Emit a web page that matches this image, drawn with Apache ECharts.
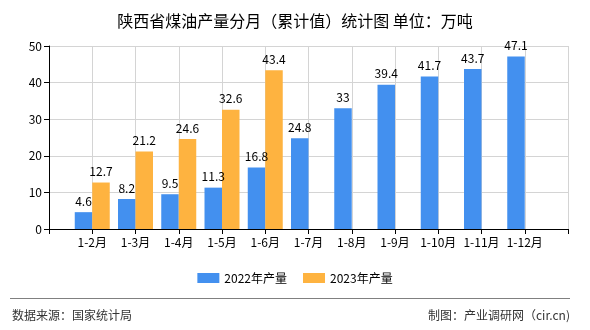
<!DOCTYPE html>
<html>
<head>
<meta charset="utf-8">
<script src="https://cdn.jsdelivr.net/npm/echarts@6/dist/echarts.min.js"></script>
<style>
  html, body { margin: 0; padding: 0; background: #fff; }
  #chart { width: 590px; height: 330px; }
</style>
</head>
<body>
<div id="chart"></div>
<script>
// Monthly cumulative kerosene output, Shaanxi (10k tonnes)
const months = ['1-2月', '1-3月', '1-4月', '1-5月', '1-6月', '1-7月', '1-8月', '1-9月', '1-10月', '1-11月', '1-12月'];
const output2022 = [4.6, 8.2, 9.5, 11.3, 16.8, 24.8, 33, 39.4, 41.7, 43.7, 47.1];
const output2023 = [12.7, 21.2, 24.6, 32.6, 43.4];
const yTicks = { min: 0, max: 50, interval: 10 };

// Empty slots at both ends so the months sit on interior ticks
const categories = [''].concat(months, ['']);
const pad = (arr) => ['-'].concat(months.map((_, i) => (i < arr.length ? arr[i] : '-')), ['-']);

const font = '"Noto Sans CJK SC", "Noto Sans", sans-serif';
const chart = echarts.init(document.getElementById('chart'), null, { renderer: 'canvas' });

const labelStyle = {
  show: true,
  position: 'top',
  color: '#000',
  fontSize: 12,
  fontFamily: font
};

chart.setOption({
  animation: false,
  textStyle: { fontFamily: font },
  title: {
    text: '陕西省煤油产量分月（累计值）统计图 单位：万吨',
    left: 'center',
    top: 8,
    textStyle: { fontSize: 16, fontWeight: 'normal', color: '#000', fontFamily: font }
  },
  legend: {
    bottom: 41,
    left: 'center',
    itemWidth: 22,
    itemHeight: 10,
    itemGap: 16,
    icon: 'rect',
    textStyle: { fontSize: 12, color: '#000', fontFamily: font },
    data: ['2022年产量', '2023年产量']
  },
  grid: { left: 49, right: 22, top: 46, bottom: 101, containLabel: false },
  xAxis: {
    type: 'category',
    data: categories,
    boundaryGap: false,
    axisLine: { lineStyle: { color: '#000', width: 1 } },
    axisTick: { show: true, interval: 0, length: 5, lineStyle: { color: '#000' } },
    axisLabel: { interval: 0, color: '#000', fontSize: 12, fontFamily: font, margin: 7 },
    splitLine: { show: true, interval: 0, lineStyle: { color: '#d4d4d4', width: 1 } }
  },
  yAxis: {
    type: 'value',
    min: yTicks.min,
    max: yTicks.max,
    interval: yTicks.interval,
    axisLine: { show: true, lineStyle: { color: '#000', width: 1 } },
    axisTick: { show: true, length: 5, lineStyle: { color: '#000' } },
    axisLabel: { color: '#000', fontSize: 12, fontFamily: font, margin: 7 },
    splitLine: { show: true, lineStyle: { color: '#d4d4d4', width: 1 } }
  },
  graphic: [
    {
      type: 'line',
      shape: { x1: 10, y1: 298.5, x2: 570, y2: 298.5 },
      style: { stroke: '#808080', lineWidth: 1 }
    },
    {
      type: 'text',
      left: 12,
      top: 309,
      style: { text: '数据来源：国家统计局', fill: '#333', font: '12px ' + font }
    },
    {
      type: 'text',
      right: 20,
      top: 309,
      style: { text: '制图：产业调研网（cir.cn)', fill: '#333', font: '12px ' + font }
    }
  ],
  series: [
    {
      name: '2022年产量',
      type: 'bar',
      data: pad(output2022),
      barWidth: 17.5,
      barGap: '0%',
      itemStyle: { color: '#4390EF' },
      label: labelStyle
    },
    {
      name: '2023年产量',
      type: 'bar',
      data: pad(output2023),
      barWidth: 17.5,
      barGap: '0%',
      itemStyle: { color: '#FEB340' },
      label: labelStyle
    }
  ]
});
</script>
</body>
</html>
